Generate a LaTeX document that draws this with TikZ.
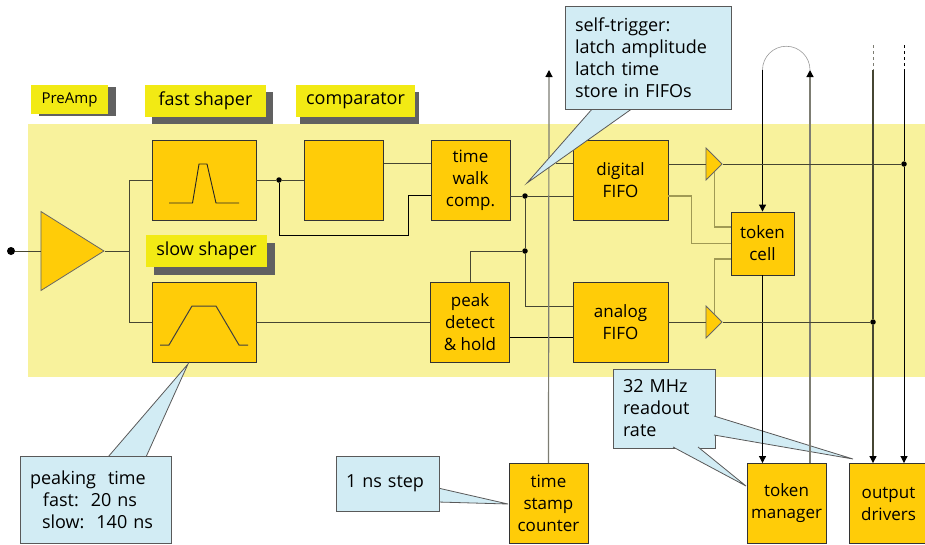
\documentclass[tikz,border=0pt]{standalone}
\usepackage{xcolor}
\usepackage{fontspec}
\setmainfont{Open Sans}
\usetikzlibrary{positioning, arrows.meta, shapes.geometric, shadows}
\definecolor{chipband}{RGB}{248, 242, 156}
\definecolor{chipblock}{RGB}{255, 204, 8}
\definecolor{chiptag}{RGB}{242, 234, 20}
\definecolor{chipnote}{RGB}{210, 236, 244}
\definecolor{chipwire}{RGB}{70, 70, 50}
\definecolor{chipolive}{RGB}{160, 154, 84}
\definecolor{chipgray}{RGB}{125, 125, 115}

\begin{document}
\begin{tikzpicture}[x=1pt, y=-1pt,
  block/.style={rectangle, draw=black!80, fill=chipblock, line width=0.9pt,
                minimum width=79pt, minimum height=80pt, inner sep=0pt,
                align=center, font=\fontsize{17}{22}\selectfont},
  tag/.style={rectangle, fill=chiptag, inner sep=0pt, minimum height=32pt,
              font=\fontsize{18}{20}\selectfont},
  tagshadow/.style 2 args={drop shadow={shadow xshift=#1, shadow yshift=-#2, fill=black!62, opacity=1}},
  note/.style={rectangle, draw=black!65, fill=chipnote, line width=0.8pt,
               inner xsep=10pt, inner ysep=0pt,
               align=left, font=\fontsize{18}{22}\selectfont},
  tail/.style={draw=black!65, fill=chipnote, line width=0.8pt},
  amp/.style={isosceles triangle, isosceles triangle stretches, draw=black!60, fill=chipblock,
              inner sep=0pt, line width=0.8pt, anchor=apex},
  dot/.style={circle, fill=black, inner sep=0pt, minimum size=5.5pt},
  wire/.style={chipwire, line width=1pt},
  blackwire/.style={black, line width=1pt},
  olive/.style={chipolive, line width=1.2pt},
  graywire/.style={chipgray, line width=1.2pt},
  arr/.style={-{Triangle[length=7pt, width=7pt, color=black]}}
]
  \useasboundingbox (0,0) rectangle (925,544);

  % Band
  \fill[chipband] (28,124) rectangle (925,377);

  % Labels over the band
  \node[tag, tagshadow={8pt}{2pt}, minimum width=77pt, minimum height=29pt, font=\fontsize{15}{16}\selectfont] (preamptag) at (69.5,99.5) {PreAmp};
  \node[tag, tagshadow={7pt}{7pt}, minimum width=121pt] (fasttag) at (205.5,101) {fast shaper};
  \node[tag, tagshadow={4pt}{7pt}, minimum width=119pt] (cmptag)  at (355.5,101) {comparator};
  \node[tag, tagshadow={8pt}{8pt}, minimum width=121pt] (slowtag) at (206.5,251) {slow shaper};

  % Joints
  \node[dot, minimum size=8pt] (input) at (11,251) {};
  \node[dot] (jfast) at (279,180) {};
  \node[dot] (jwalk) at (525,196) {};
  \node[dot] (jpeak) at (525,251) {};
  \node[dot] (jdig)  at (904,164) {};
  \node[dot] (jana)  at (873,322) {};
  \coordinate (split) at (129,251);
  \coordinate (loopin) at (762.5,70);
  \coordinate (loopout) at (810,70);
  \coordinate (drva) at (873,70);
  \coordinate (drvb) at (904,70);
  \coordinate (drvatop) at (873,45);
  \coordinate (drvbtop) at (904,45);
  \coordinate (stampup) at (549,70);
  \coordinate (trigstub) at (556,163);

  % Blocks
  \node[block, minimum width=104pt] (fast)  at (204,180)   {};
  \node[block] (cmp)   at (344,180)   {};
  \node[block] (twalk) at (470.5,180) {time\\walk\\comp.};
  \node[block, minimum width=95pt] (dfifo) at (620.5,180) {digital\\FIFO};
  \node[block, minimum width=104pt] (slow)  at (204,322)   {};
  \node[block] (peak)  at (470,322)   {peak\\detect\\\& hold};
  \node[block, minimum width=95pt] (afifo) at (620.5,322) {analog\\FIFO};
  \node[block, minimum width=63pt, minimum height=63pt] (tcell) at (762.5,243.5) {token\\cell};
  \node[block] (stamp)  at (548.5,503.5) {time\\stamp\\counter};
  \node[block] (tman)   at (786.5,503.5) {token\\manager};
  \node[block] (drv)    at (888.5,503.5) {output\\drivers};

  % Drivers and preamp
  \node[amp, minimum width=79pt, minimum height=63pt] (pre) at (105,251) {};
  \node[amp, minimum width=32pt, minimum height=16pt] (dtri) at (723,164) {};
  \node[amp, minimum width=32pt, minimum height=16pt] (atri) at (723,322) {};

  % Pulse shapes
  \draw[black!85, line width=0.9pt] (169,203) -- (192.5,203) -- (199,164) -- (207,164) -- (216,203) -- (239,203);
  \draw[black!75, line width=1pt] (160,345) -- (169,345) -- (192,306) -- (216,306) -- (239,345) -- (248,345);

  % Wires
  \draw[wire] (input) -- (pre.lower side);
  \draw[wire] (pre.apex) -- (split);
  \draw[wire] (split) |- (fast.west);
  \draw[wire] (split) |- (slow.west);
  \draw[wire] (fast.east) -- (jfast) -- (cmp.west);
  \draw[blackwire] (jfast) |- (408,235) |- (twalk.west |- 0,195);
  \draw[wire] (cmp.east |- 0,163) -- (twalk.west |- 0,163);
  \draw[wire] (twalk.east |- 0,196) -- (jwalk) -- (dfifo.west |- 0,196);
  \draw[wire] (jwalk) -- (jpeak) |- (afifo.west |- 0,306);
  \draw[wire] (jpeak) -| (peak.north);
  \draw[wire] (slow.east) -- (peak.west);
  \draw[blackwire] (peak.east |- 0,337) -- (afifo.west |- 0,337);
  \draw[wire] (dfifo.west |- 0,163) -- (trigstub);
  \draw[wire] (dfifo.east |- 0,164) -- (dtri.lower side);
  \draw[wire] (afifo.east) -- (atri.lower side);
  \draw[olive] (dfifo.east |- 0,196) -- ++(23,0) |- (tcell.west);
  \draw[olive] (dtri.right side) |- (tcell.west |- 0,227);
  \draw[olive] (atri.left side) |- (tcell.west |- 0,259);
  \draw[graywire, arr] (stamp.north) -- (stampup);

  % Notes
  \path[tail] (593,108) -- (527,183) -- (633,108);
  \node[note, text width=146pt, minimum height=103pt] (trignote) at (648,57.5)
    {self-trigger:\\latch amplitude\\latch time\\store in FIFOs};
  \path[tail] (108,457) -- (188,364) -- (146,457);
  \node[note, text width=131pt, minimum height=87pt] (peaknote) at (95.5,499.5)
    {peaking\ \ time\\\hspace*{13pt}fast:\ \ 20 ns\\\hspace*{12pt}slow:\ \ 140 ns};
  \path[tail] (438,488) -- (508,504) -- (438,502);
  \node[note, text width=83pt, minimum height=55pt] (stepnote) at (387.5,483.5) {1 ns step};
  \node[note, text width=82pt, minimum height=79pt] (ratenote) at (664,408.5)
    {32 MHz\\readout\\rate};
  \path[tail] (714,416) -- (853,459) -- (714,435);
  \path[tail] (673,447) -- (746,486) -- (698,447);

  % Token and output lines
  \draw[black!40, line width=0.6pt] (loopin) arc[start angle=180, end angle=0, radius=23.75pt];
  \draw[blackwire, arr] (loopin) -- (tcell.north);
  \draw[blackwire, arr] (tcell.south) -- (tcell.south |- tman.north);
  \draw[graywire, arr] (tman.north -| loopout) -- (loopout);
  \draw[wire] (dtri.apex) -- (jdig);
  \draw[wire] (atri.apex) -- (jana);
  \draw[wire, line width=1.2pt, arr] (drva) -- (jana) -- (jana |- drv.north);
  \draw[blackwire, arr] (drvb) -- (jdig) -- (jdig |- drv.north);
  \draw[chipgray, line width=1pt, dashed] (drvatop) -- (drva);
  \draw[black, line width=1pt, dashed] (drvbtop) -- (drvb);
\end{tikzpicture}
\end{document}
